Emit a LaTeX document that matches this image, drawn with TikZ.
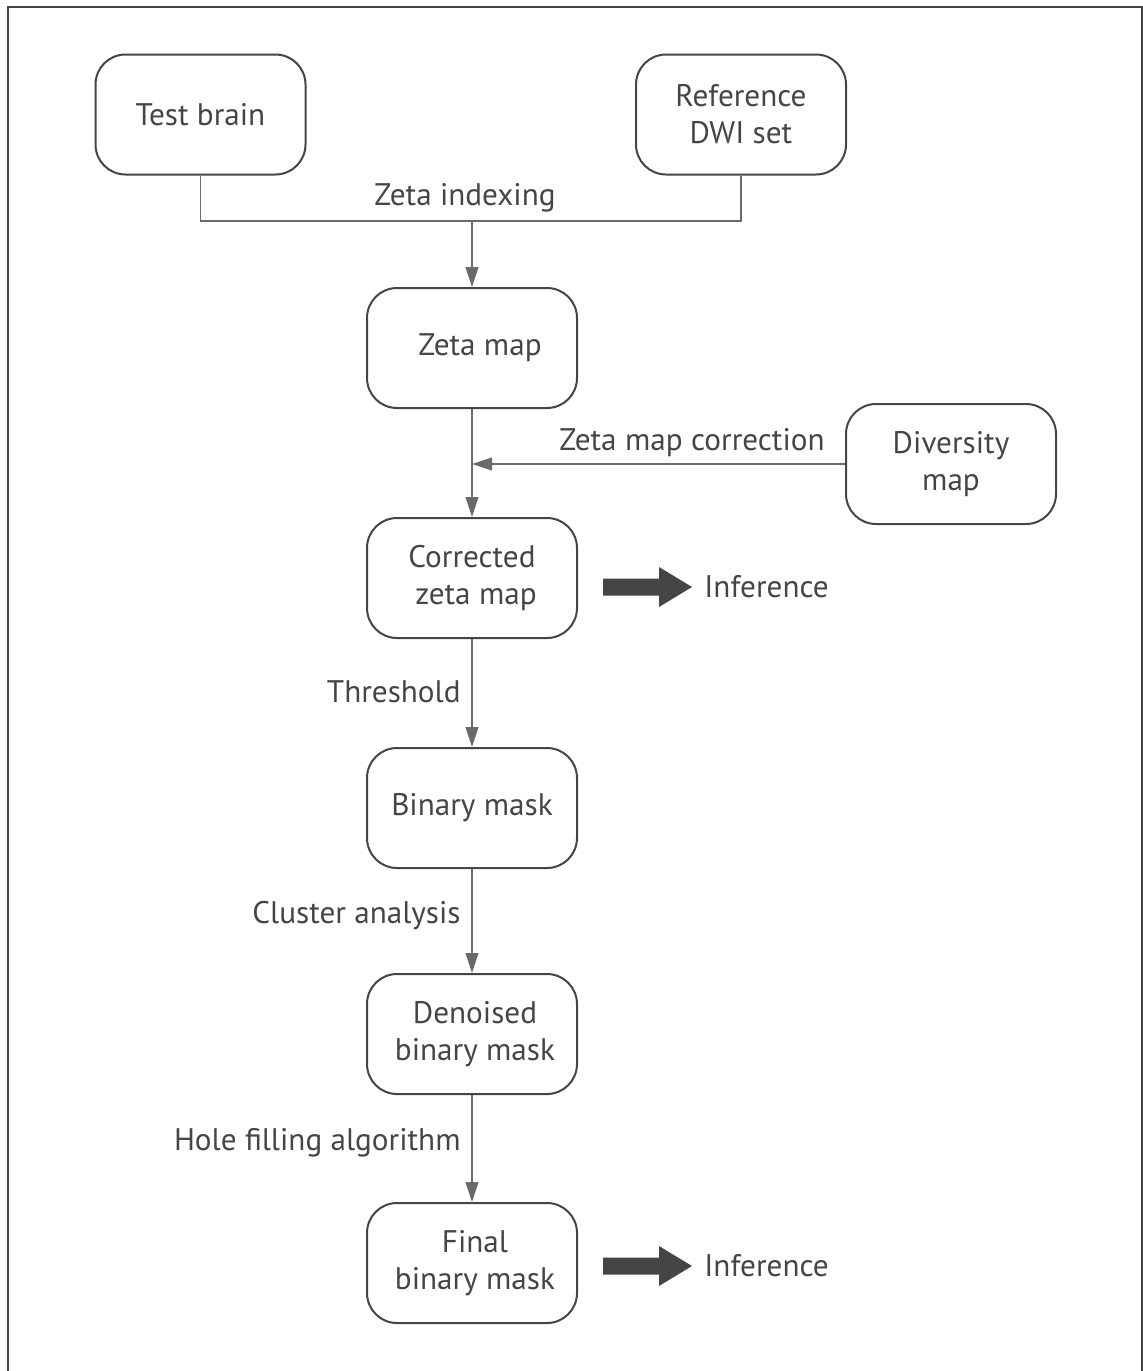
\documentclass[tikz,border=0pt]{standalone}
\usepackage{fontspec}
\setmainfont{PT Sans}
\usetikzlibrary{arrows.meta}
\definecolor{ink}{HTML}{454547}
\definecolor{wire}{HTML}{6A6A6A}
\begin{document}
\begin{tikzpicture}[x=0.5pt,y=-0.5pt,
  every node/.style={text=ink,font=\fontsize{15.6}{18.5}\selectfont},
  procbox/.style={draw=ink,line width=1pt,rounded corners=15pt,minimum width=105pt,minimum height=60pt,align=center,inner sep=0pt},
  flow/.style={draw=wire,line width=0.55pt,-{Triangle[length=10pt,width=6.5pt]}},
  plain/.style={draw=wire,line width=0.55pt},
  lbl/.style={inner sep=1pt},
  bigarrow/.style={fill=ink,draw=none}]
\useasboundingbox (0,0) rectangle (1143,1371);
% outer frame
\draw[draw=ink,line width=1pt] (8,1380) -- (8,7) -- (1142,7) -- (1142,1380);

% process boxes
\node[procbox] (test) at (200.5,114.5) {Test brain};
\node[procbox] (ref) at (741,114.5) {Reference\\DWI set};
\node[procbox] (zeta) at (472,348) {\hspace{8pt}Zeta map};
\node[procbox] (div) at (951,464) {Diversity\\map};
\node[procbox] (corr) at (472,578) {Corrected\\\hspace{4pt}zeta map};
\node[procbox] (bin) at (472,808) {Binary mask};
\node[procbox] (den) at (472,1034) {\hspace{3pt}Denoised\\\hspace{3pt}binary mask};
\node[procbox] (fin) at (472,1263) {\hspace{3pt}Final\\\hspace{3pt}binary mask};

% merge of the two inputs
\coordinate (jl) at (test.south |- 0,221);
\coordinate (jr) at (ref.south |- 0,221);
\coordinate (jm) at (zeta.north |- 0,221);
\draw[plain] (test.south) -- (jl) -- (jr) -- (ref.south);
\draw[flow] (jm) -- (zeta.north);
\node[lbl] (zidx) at (465,198) {Zeta indexing};

% zeta map to corrected map, with the correction feeding in
\draw[flow] (zeta.south) -- (corr.north);
\coordinate (cj) at (zeta.south |- div.west);
\draw[flow] (div.west) -- (cj);
\node[lbl] (zcor) at (692,443) {Zeta map correction};

% downstream chain
\draw[flow] (corr.south) -- (bin.north);
\node[lbl,anchor=east] (thr) at (463,692) {Threshold};
\draw[flow] (bin.south) -- (den.north);
\node[lbl,anchor=east] (clu) at (463,916) {Cluster analysis};
\draw[flow] (den.south) -- (fin.north);
\node[lbl,anchor=east] (hole) at (463,1143) {Hole filling algorithm};

% inference arrows
\foreach \yy/\nm in {587/infa,1266/infb}{
  \fill[bigarrow] (603,\yy-8.5) -- (659,\yy-8.5) -- (659,\yy-20) -- (692,\yy) -- (659,\yy+20) -- (659,\yy+8.5) -- (603,\yy+8.5) -- cycle;
  \node[lbl,anchor=west] (\nm) at (702,\yy) {Inference};
}
\end{tikzpicture}
\end{document}
